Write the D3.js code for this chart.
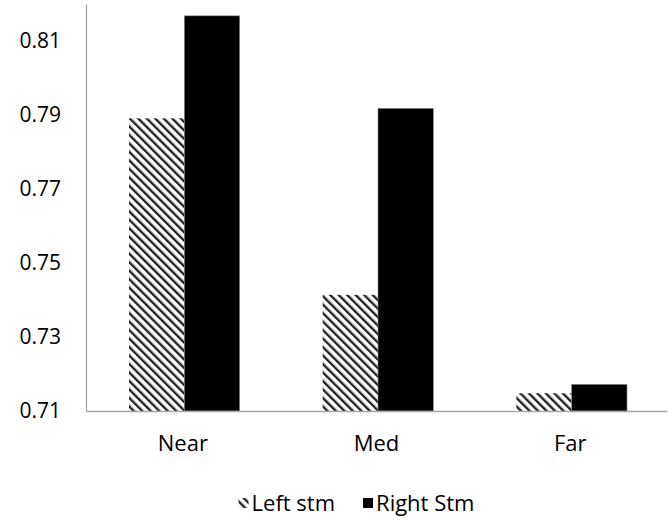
<!DOCTYPE html>
<html>
<head>
<meta charset="utf-8">
<title>stm bars</title>
<script src="https://cdn.jsdelivr.net/npm/d3@7"></script>
<style>
  body { margin: 0; background: #fff; }
</style>
</head>
<body>
<div id="chart"></div>
<script>
// data
const categories = ["Near", "Med", "Far"];
const series = ["Left stm", "Right Stm"];
const leftVals = [0.7891, 0.7414, 0.7148];
const rightVals = [0.8168, 0.7918, 0.7172];
const yTicks = [0.71, 0.73, 0.75, 0.77, 0.79, 0.81];

const width = 668, height = 520;
const margin = {top: 4, right: 1, bottom: 109, left: 86};
const font = "'Open Sans', sans-serif";

const rows = categories.map((c, i) => ({cat: c, vals: [leftVals[i], rightVals[i]]}));

const svg = d3.select("#chart").append("svg")
    .attr("width", width)
    .attr("height", height)
    .attr("font-family", font);

// diagonal hatch
const defs = svg.append("defs");
const pat = defs.append("pattern")
    .attr("id", "hatch")
    .attr("patternUnits", "userSpaceOnUse")
    .attr("width", 6)
    .attr("height", 6)
    .attr("patternTransform", "rotate(-45)");
pat.append("rect").attr("width", 6).attr("height", 6).attr("fill", "#fff");
pat.append("rect").attr("x", 0).attr("width", 2.4).attr("height", 6).attr("fill", "#222");

const fills = ["url(#hatch)", "#000"];

const x0 = d3.scaleBand()
    .domain(categories)
    .range([margin.left, width - margin.right])
    .padding(0);

// excel gap width 150%
const x1 = d3.scaleBand()
    .domain(d3.range(series.length))
    .range([0, x0.bandwidth()])
    .paddingInner(0)
    .paddingOuter(0.75);

const y = d3.scaleLinear()
    .domain([0.71, 0.82])
    .range([height - margin.bottom, margin.top]);

// bars
const grp = svg.append("g").selectAll("g")
  .data(rows)
  .join("g")
    .attr("transform", d => `translate(${x0(d.cat)},0)`);

grp.selectAll("rect")
  .data(d => d.vals)
  .join("rect")
    .attr("x", (d, i) => x1(i) + 1.5)
    .attr("y", d => y(d))
    .attr("width", x1.bandwidth())
    .attr("height", d => y(0.71) - y(d))
    .attr("fill", (d, i) => fills[i])
    .attr("stroke", (d, i) => i === 1 ? "#8c8c8c" : "none")
    .attr("stroke-width", 0.6);

// y axis
const yAxis = svg.append("g")
    .attr("transform", `translate(${margin.left},0)`)
    .call(d3.axisLeft(y).tickValues(yTicks).tickSize(0).tickPadding(25)
        .tickFormat(d3.format(".2f")));
yAxis.select(".domain").attr("stroke", "#a6a6a6").attr("stroke-width", 1.3);
yAxis.selectAll("text")
    .attr("font-size", 21)
    .attr("font-family", font)
    .attr("fill", "#000");

// x axis
const xAxis = svg.append("g")
    .attr("transform", `translate(0,${y(0.71)})`)
    .call(d3.axisBottom(x0).tickSize(0).tickPadding(24).tickSizeOuter(0));
xAxis.select(".domain").attr("stroke", "#a6a6a6").attr("stroke-width", 1.5);
xAxis.selectAll("text")
    .attr("font-size", 22)
    .attr("font-family", font)
    .attr("fill", "#000");

// legend
const legend = svg.append("g")
    .attr("font-size", 22);
const items = legend.selectAll("g")
  .data(series)
  .join("g");
items.append("rect")
    .attr("width", 10)
    .attr("height", 10)
    .attr("y", -5)
    .attr("fill", (d, i) => fills[i]);
items.append("text")
    .attr("x", 13)
    .attr("dy", "0.35em")
    .text(d => d);

let lx = 0;
items.each(function() {
  const w = this.getBBox().width;
  d3.select(this).attr("transform", `translate(${lx},0)`);
  lx += w + 28;
});
lx -= 28;
legend.attr("transform", `translate(${356.5 - lx / 2},503)`);
</script>
</body>
</html>
